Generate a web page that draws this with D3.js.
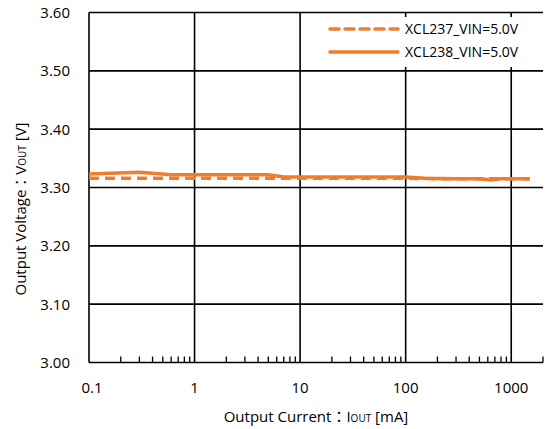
<!DOCTYPE html>
<html>
<head>
<meta charset="utf-8">
<script src="https://cdn.jsdelivr.net/npm/d3@7"></script>
<style>
  body { margin: 0; background: #fff; }
  text { font-family: "Open Sans", "Noto Sans CJK JP", sans-serif; fill: #000; }
</style>
</head>
<body>
<svg id="chart" width="548" height="429"></svg>
<script>
// data
const xcl237Current = [0.1, 0.2, 0.5, 1, 2, 5, 10, 20, 50, 100, 200, 500, 1000, 1500];
const xcl237Vout    = [3.316, 3.316, 3.316, 3.316, 3.316, 3.316, 3.316, 3.316, 3.316, 3.316, 3.315, 3.315, 3.315, 3.315];

const xcl238Current = [0.1, 0.3, 0.6, 1, 5, 7, 10, 100, 150, 300, 500, 650, 800, 1500];
const xcl238Vout    = [3.323, 3.326, 3.322, 3.322, 3.322, 3.318, 3.318, 3.318, 3.316, 3.315, 3.315, 3.313, 3.315, 3.315];

const yTicks = [3.00, 3.10, 3.20, 3.30, 3.40, 3.50, 3.60];
const xTicks = [0.1, 1, 10, 100, 1000];
const legendLabels = ["XCL237_VIN=5.0V", "XCL238_VIN=5.0V"];

const svg = d3.select("svg#chart");
const orange = "#ED7D31";

const x = d3.scaleLog().domain([0.1, 2000]).range([89, 543]);
const y = d3.scaleLinear().domain([3.0, 3.6]).range([362.5, 12.5]);

// horizontal grid
svg.append("g")
    .selectAll("line")
    .data(yTicks)
    .enter()
    .append("line")
    .attr("x1", x(0.1))
    .attr("x2", x(2000))
    .attr("y1", d => y(d))
    .attr("y2", d => y(d))
    .attr("stroke", "#000")
    .attr("stroke-width", 1.6);

// vertical grid at decades
svg.append("g")
    .selectAll("line")
    .data(xTicks)
    .enter()
    .append("line")
    .attr("x1", d => x(d))
    .attr("x2", d => x(d))
    .attr("y1", y(3.6))
    .attr("y2", y(3.0))
    .attr("stroke", "#000")
    .attr("stroke-width", 1.6);

// minor ticks on bottom axis
const minor = [];
[0.1, 1, 10, 100, 1000].forEach(dec => {
    for (let k = 2; k <= 9; k++) {
        const v = dec * k;
        if (v <= 2000) minor.push(v);
    }
});
svg.append("g")
    .selectAll("line")
    .data(minor)
    .enter()
    .append("line")
    .attr("x1", d => x(d))
    .attr("x2", d => x(d))
    .attr("y1", y(3.0))
    .attr("y2", y(3.0) - 6)
    .attr("stroke", "#000")
    .attr("stroke-width", 1.3);

// y tick labels
svg.append("g")
    .selectAll("text")
    .data(yTicks)
    .enter()
    .append("text")
    .attr("x", 70)
    .attr("y", d => y(d))
    .attr("dy", "0.36em")
    .attr("text-anchor", "end")
    .style("font-size", "15px")
    .text(d => d.toFixed(2));

// x tick labels
svg.append("g")
    .selectAll("text")
    .data(xTicks)
    .enter()
    .append("text")
    .attr("x", d => x(d) + (d === 0.1 ? 3 : 0))
    .attr("y", 393)
    .attr("text-anchor", "middle")
    .style("font-size", "15px")
    .text(d => d);

// series
const line = d3.line()
    .x(d => x(d[0]))
    .y(d => y(d[1]));

svg.append("path")
    .datum(d3.zip(xcl237Current, xcl237Vout))
    .attr("d", line)
    .attr("fill", "none")
    .attr("stroke", orange)
    .attr("stroke-width", 3.5)
    .attr("stroke-dasharray", "10,6");

svg.append("path")
    .datum(d3.zip(xcl238Current, xcl238Vout))
    .attr("d", line)
    .attr("fill", "none")
    .attr("stroke", orange)
    .attr("stroke-width", 3.5);

// legend (white box hides the grid behind it)
const legend = svg.append("g");
legend.append("rect")
    .attr("x", 320)
    .attr("y", 17)
    .attr("width", 223)
    .attr("height", 50)
    .attr("fill", "#fff");
legendLabels.forEach((label, i) => {
    const ly = 29 + i * 23;
    legend.append("line")
        .attr("x1", 330)
        .attr("x2", 398)
        .attr("y1", ly)
        .attr("y2", ly)
        .attr("stroke", orange)
        .attr("stroke-width", 3.5)
        .attr("stroke-dasharray", i === 0 ? "9,6" : null)
        .attr("stroke-linecap", "round");
    legend.append("text")
        .attr("x", 405)
        .attr("y", ly)
        .attr("dy", "0.35em")
        .style("font-size", "14px")
        .text(label);
});

// axis titles
const xt = svg.append("text")
    .attr("x", 316)
    .attr("y", 422)
    .attr("text-anchor", "middle")
    .style("font-size", "15px");
xt.append("tspan").text("Output Current：I");
xt.append("tspan").attr("font-size", "10px").text("OUT");
xt.append("tspan").text(" [mA]");

const yt = svg.append("text")
    .attr("transform", "translate(26,209) rotate(-90)")
    .attr("text-anchor", "middle")
    .style("font-size", "15px");
yt.append("tspan").text("Output Voltage：V");
yt.append("tspan").attr("font-size", "10px").text("OUT");
yt.append("tspan").text(" [V]");
</script>
</body>
</html>
